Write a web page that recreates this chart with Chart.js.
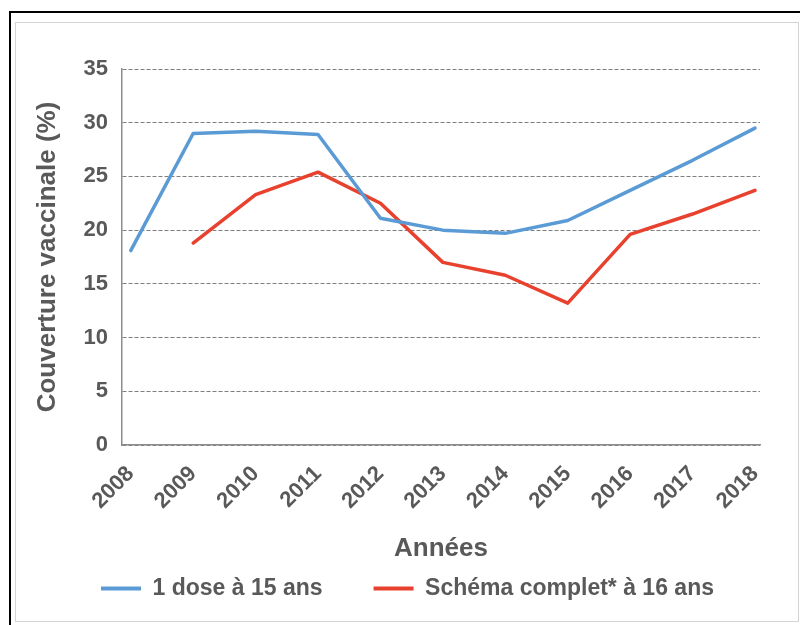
<!DOCTYPE html>
<html>
<head>
<meta charset="utf-8">
<script src="https://cdn.jsdelivr.net/npm/chart.js@4/dist/chart.umd.min.js"></script>
<style>
  html, body { margin: 0; padding: 0; background: #fff; }
  body { width: 800px; height: 625px; position: relative; overflow: hidden; }
  #outer { position: absolute; left: 9px; top: 11px; width: 800px; height: 700px;
           border-left: 2px solid #000; border-top: 2px solid #000; }
  #inner { position: absolute; left: 15px; top: 22px; width: 782px; height: 598px;
           border: 1.5px solid #d4d4d4; }
  #wrap { position: absolute; left: 0; top: 0; width: 800px; height: 625px; }
</style>
</head>
<body>
<div id="outer"></div>
<div id="inner"></div>
<div id="wrap"><canvas id="c" width="800" height="625"></canvas></div>
<script>
const years = [2008, 2009, 2010, 2011, 2012, 2013, 2014, 2015, 2016, 2017, 2018];
const oneDose15 = [18.1, 29.0, 29.2, 28.9, 21.1, 20.0, 19.7, 20.9, 23.7, 26.5, 29.5];
const complet16 = [null, 18.8, 23.3, 25.4, 22.5, 17.0, 15.8, 13.2, 19.6, 21.5, 23.7];
const yTicks = [0, 5, 10, 15, 20, 25, 30, 35];
const seriesLabels = ['1 dose à 15 ans', 'Schéma complet* à 16 ans'];

const grey = '#595959';
const FONT = "'Liberation Sans', Arial, sans-serif";

const toPts = arr => years.map((y, i) => ({x: y, y: arr[i]}));

new Chart(document.getElementById('c'), {
  type: 'line',
  data: {
    datasets: [
      { label: seriesLabels[0], data: toPts(oneDose15), borderColor: '#5B9BD5', backgroundColor: '#5B9BD5',
        borderWidth: 3.5, pointRadius: 0, tension: 0, borderJoinStyle: 'round', borderCapStyle: 'round' },
      { label: seriesLabels[1], data: toPts(complet16), borderColor: '#E8412E', backgroundColor: '#E8412E',
        borderWidth: 3.5, pointRadius: 0, tension: 0, borderJoinStyle: 'round', borderCapStyle: 'round', spanGaps: false }
    ]
  },
  options: {
    responsive: false,
    animation: false,
    devicePixelRatio: 1,
    layout: { padding: { top: 69, right: 0, left: 15, bottom: 15 } },
    plugins: {
      tooltip: { enabled: false },
      legend: {
        position: 'bottom',
        labels: {
          boxWidth: 40, boxHeight: 4, padding: 51,
          color: grey, font: { family: FONT, size: 23, weight: 'bold' },
          generateLabels: chart => Chart.defaults.plugins.legend.labels.generateLabels(chart)
            .map(it => Object.assign(it, { lineWidth: 0 }))
        }
      }
    },
    scales: {
      x: {
        type: 'linear',
        min: 2007.86, max: 2018.08,
        afterBuildTicks: s => { s.ticks = years.map(v => ({ value: v })); },
        afterFit: s => { s.height = 81; },
        grid: { display: false, drawTicks: false },
        border: { display: true, color: '#8c8c8c', width: 1.5 },
        ticks: {
          color: grey, font: { family: FONT, size: 22, weight: 'bold' },
          minRotation: 45, maxRotation: 45, padding: 16, autoSkip: false,
          callback: v => String(v)
        },
        title: {
          display: true, text: 'Années', color: grey,
          font: { family: FONT, size: 26, weight: 'bold' },
          padding: { top: -38, bottom: -38 }
        }
      },
      y: {
        min: 0, max: 35,
        afterBuildTicks: s => { s.ticks = yTicks.map(v => ({ value: v })); },
        afterFit: s => { s.width = 107; },
        grid: { color: '#7f7f7f', lineWidth: 1, drawTicks: false },
        border: { display: true, color: '#8c8c8c', width: 1.5, dash: [4, 2] },
        ticks: { color: grey, font: { family: FONT, size: 22, weight: 'bold' }, padding: 14 },
        title: {
          display: true, text: 'Couverture vaccinale (%)', color: grey,
          font: { family: FONT, size: 26, weight: 'bold' },
          padding: { top: 17, bottom: 17 }
        }
      },
      yPad: {
        position: 'right',
        display: true,
        afterFit: s => { s.width = 40; },
        grid: { display: false, drawTicks: false },
        border: { display: false },
        ticks: { display: false }
      }
    }
  }
});
</script>
</body>
</html>
